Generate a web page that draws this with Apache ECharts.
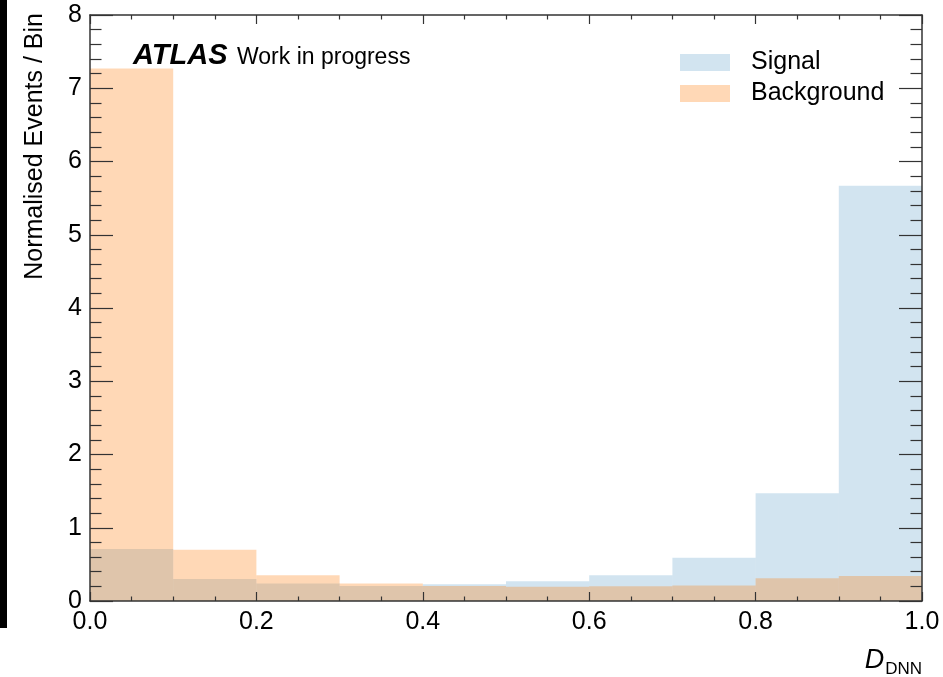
<!DOCTYPE html>
<html>
<head>
<meta charset="utf-8">
<script src="https://cdn.jsdelivr.net/npm/echarts@6/dist/echarts.min.js"></script>
<style>
  html, body { margin: 0; padding: 0; background: #fff; }
  #chart { width: 943px; height: 677px; }
</style>
</head>
<body>
<div id="chart"></div>
<script>
// Bin edges of the D_DNN histogram
const binEdges = [0.0, 0.1, 0.2, 0.3, 0.4, 0.5, 0.6, 0.7, 0.8, 0.9, 1.0];
// Normalised events per bin
const signalValues = [0.71, 0.30, 0.24, 0.205, 0.23, 0.27, 0.35, 0.59, 1.47, 5.67];
const backgroundValues = [7.27, 0.70, 0.35, 0.24, 0.205, 0.195, 0.20, 0.21, 0.31, 0.34];
const xTicks = [0.0, 0.2, 0.4, 0.6, 0.8, 1.0];
const yTicks = [0, 1, 2, 3, 4, 5, 6, 7, 8];

const FONT = '"Liberation Sans", Arial, Helvetica, sans-serif';

function toBins(values) {
  return values.map((v, i) => [binEdges[i], binEdges[i + 1], v]);
}

function renderBin(params, api) {
  const lo = api.value(0), hi = api.value(1), v = api.value(2);
  const topLeft = api.coord([lo, v]);
  const bottomRight = api.coord([hi, 0]);
  return {
    type: 'rect',
    shape: {
      x: topLeft[0],
      y: topLeft[1],
      width: bottomRight[0] - topLeft[0],
      height: bottomRight[1] - topLeft[1]
    },
    style: api.style()
  };
}

const axisColor = '#333';
const xCommon = {
  type: 'value',
  min: xTicks[0],
  max: xTicks[xTicks.length - 1],
  interval: 0.2,
  z: 10,
  axisLine: { show: true, onZero: false, lineStyle: { color: axisColor, width: 1.5 } },
  axisTick: { show: true, inside: true, length: 9, lineStyle: { color: axisColor, width: 1.2 } },
  minorTick: { show: true, splitNumber: 4, length: 4.5, lineStyle: { color: axisColor, width: 1.2 } },
  splitLine: { show: false },
  minorSplitLine: { show: false }
};
const yCommon = {
  type: 'value',
  min: yTicks[0],
  max: yTicks[yTicks.length - 1],
  interval: 1,
  z: 10,
  axisLine: { show: true, onZero: false, lineStyle: { color: axisColor, width: 1.5 } },
  axisTick: { show: true, inside: true, length: 23, lineStyle: { color: axisColor, width: 1.2 } },
  minorTick: { show: true, splitNumber: 5, length: 11.5, lineStyle: { color: axisColor, width: 1.2 } },
  splitLine: { show: false },
  minorSplitLine: { show: false }
};

const chart = echarts.init(document.getElementById('chart'), null, { renderer: 'canvas' });
chart.setOption({
  animation: false,
  backgroundColor: '#fff',
  grid: { left: 90, right: 21, top: 15, bottom: 76 },
  xAxis: [
    Object.assign({}, xCommon, {
      position: 'bottom',
      axisLabel: {
        show: true, margin: 9, color: '#000', fontSize: 25, fontFamily: FONT,
        formatter: v => v.toFixed(1)
      }
    }),
    Object.assign({}, xCommon, { position: 'top', axisLabel: { show: false } })
  ],
  yAxis: [
    Object.assign({}, yCommon, {
      position: 'left',
      axisLabel: { show: true, margin: 8, color: '#000', fontSize: 25, fontFamily: FONT }
    }),
    Object.assign({}, yCommon, { position: 'right', axisLabel: { show: false } })
  ],
  legend: {
    left: 680,
    top: 50,
    orient: 'vertical',
    padding: 0,
    itemGap: 6,
    itemWidth: 50,
    itemHeight: 17,
    icon: 'rect',
    textStyle: { fontSize: 25, color: '#000', fontFamily: FONT, padding: [0, 0, 0, 16] },
    data: ['Signal', 'Background']
  },
  series: [
    {
      name: 'Signal',
      type: 'custom',
      renderItem: renderBin,
      encode: { x: [0, 1], y: 2 },
      itemStyle: { color: 'rgba(31,119,180,0.2)' },
      data: toBins(signalValues)
    },
    {
      name: 'Background',
      type: 'custom',
      renderItem: renderBin,
      encode: { x: [0, 1], y: 2 },
      itemStyle: { color: 'rgba(255,127,14,0.3)' },
      data: toBins(backgroundValues)
    }
  ],
  graphic: [
    { type: 'rect', left: 0, top: 0, shape: { width: 7, height: 628 }, style: { fill: '#000' }, z: 0 },
    {
      type: 'text', x: 133, y: 56,
      style: { text: 'ATLAS', font: 'italic bold 29px ' + FONT, fill: '#000', verticalAlign: 'middle', align: 'left' }
    },
    {
      type: 'text', x: 237, y: 58,
      style: { text: 'Work in progress', font: '23px ' + FONT, fill: '#000', verticalAlign: 'middle', align: 'left' }
    },
    {
      type: 'text', x: 35, y: 13, rotation: Math.PI / 2,
      style: { text: 'Normalised Events / Bin', font: '25px ' + FONT, fill: '#000', align: 'right', verticalAlign: 'middle' }
    },
    {
      type: 'text', x: 922, y: 674,
      style: {
        text: '{d|D}{s|DNN}',
        align: 'right', verticalAlign: 'bottom',
        rich: {
          d: { font: 'italic 27px ' + FONT, fill: '#000', verticalAlign: 'bottom' },
          s: { font: '17px ' + FONT, fill: '#000', verticalAlign: 'bottom', padding: [0, 0, -4, 1] }
        }
      }
    }
  ]
});
</script>
</body>
</html>
